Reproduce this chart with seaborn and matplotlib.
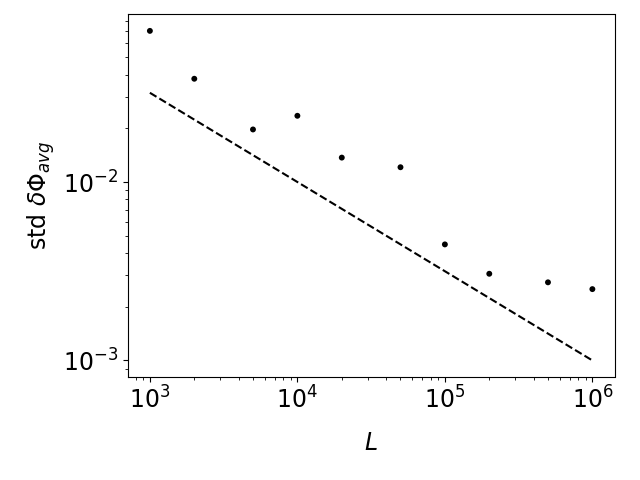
import numpy as np
import matplotlib
matplotlib.use("Agg")
import matplotlib.pyplot as plt
import seaborn as sns

sns.set_style("ticks", {'axes.labelcolor': 'black', 'xtick.color': 'black',
                        'ytick.color': 'black', 'text.color': 'black',
                        'axes.edgecolor': 'black'})
plt.rcParams.update({'font.size': 17})

L_vals = [1e3, 2e3, 5e3, 1e4, 2e4, 5e4, 1e5, 2e5, 5e5, 1e6]
std_vals = [0.0703, 0.0379, 0.0197, 0.0235, 0.0137, 0.0121, 0.00447, 0.00306, 0.00274, 0.00251]
ref_L = [1e3, 1e6]
ref_std = [1e3 ** -0.5, 1e6 ** -0.5]

fig, ax = plt.subplots(figsize=(6.4, 4.8))
sns.scatterplot(x=L_vals, y=std_vals, color='black', s=18, edgecolor='none', ax=ax)
sns.lineplot(x=ref_L, y=ref_std, color='black', linestyle='--', ax=ax)
ax.set_xscale('log')
ax.set_yscale('log')
ax.set_xlabel('$L$', labelpad=12)
ax.set_ylabel(r'std $\delta\Phi_{avg}$')
fig.tight_layout()
fig.subplots_adjust(top=0.97)
fig.savefig('out.png', dpi=100)
